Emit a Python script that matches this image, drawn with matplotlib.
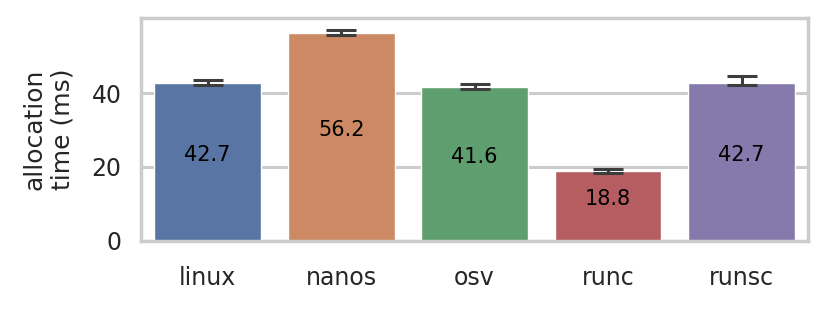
import numpy as np
import matplotlib
matplotlib.use("Agg")
import matplotlib.pyplot as plt
import seaborn as sns

# данные
systems = ["linux", "nanos", "osv", "runc", "runsc"]
alloc_ms = [42.7, 56.2, 41.6, 18.8, 42.7]
err_low = [0.5, 0.4, 0.5, 0.4, 0.6]
err_high = [0.9, 0.9, 0.8, 0.7, 2.0]
colors = ["#5975a4", "#cc8963", "#5f9e6e", "#b55d60", "#857aab"]

sns.set_theme(style="whitegrid")
plt.rcParams['font.family'] = ['DejaVu Sans']

fig = plt.figure(figsize=(8.29, 3.10), dpi=100)
ax = fig.add_axes([0.170, 0.223, 0.805, 0.719])

x = np.arange(len(systems))
ax.bar(x, alloc_ms, width=0.8, color=colors, zorder=2)
ax.errorbar(x, alloc_ms, yerr=[err_low, err_high], fmt='none',
            ecolor='#3d3d3d', elinewidth=2.2, capsize=11, capthick=2.2, zorder=3)

for xi, v in zip(x, alloc_ms):
    ax.text(xi, v / 2 + 2, f"{v:.1f}", ha='center', va='center',
            fontsize=15, color='black', zorder=4)

ax.set_xlim(-0.5, len(systems) - 0.5)
ax.set_ylim(0, 60.3)
ax.set_yticks([0, 20, 40])
ax.set_xticks(x)
ax.set_xticklabels(systems)
ax.tick_params(axis='both', labelsize=17, length=0)
ax.tick_params(axis='x', pad=18)
ax.tick_params(axis='y', pad=14)
ax.set_ylabel("allocation\ntime (ms)", fontsize=18, linespacing=1.25, labelpad=12)

ax.grid(axis='x', visible=False)
ax.grid(axis='y', color='#cccccc', linewidth=2.2, zorder=0)
ax.set_axisbelow(True)
for s in ax.spines.values():
    s.set_color('#cccccc')
    s.set_linewidth(2.5)

fig.savefig("out.png", dpi=100)
